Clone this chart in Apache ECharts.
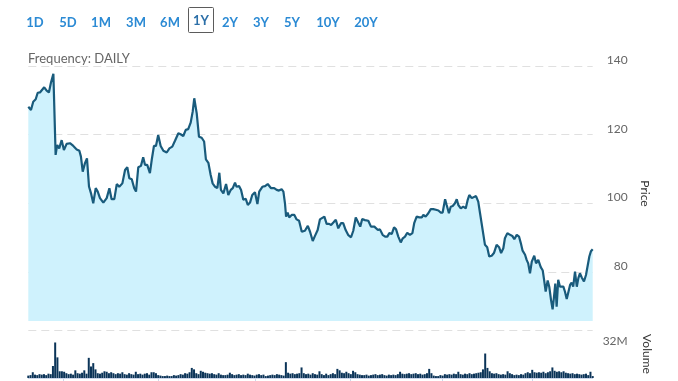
<!DOCTYPE html>
<html>
<head>
<meta charset="utf-8">
<script src="https://cdn.jsdelivr.net/npm/echarts@6/dist/echarts.min.js"></script>
<style>
  html, body { margin: 0; padding: 0; background: #fff; }
  #chart { width: 678px; height: 381px; }
</style>
</head>
<body>
<div id="chart"></div>
<script>
// ---- Data ----
const rangeButtons = ['1D', '5D', '1M', '3M', '6M', '1Y', '2Y', '3Y', '5Y', '10Y', '20Y'];
const activeButton = '1Y';
const frequencyText = 'Frequency: DAILY';

// trading-day position of each price reading (0 = first day, 252 = last day)
const priceDay = [
  0,1.2,2.2,3.3,4.2,5.2,6.0,7.1,8.2,9.2,10.1,11.2,12.2,12.9,13.8,14.9,15.9,17.1,18.6,20.1,21.6,22.8,23.5,24.3,25.3,26.2,27.1,28.0,29.0,30.1,31.0,32.0,33.5,35.0,36.2,37.2,38.4,39.5,40.6,42.0,43.2,44.2,45.1,46.2,47.3,48.1,49.1,50.3,
  51.3,52.1,53.1,54.3,55.1,56.1,57.0,58.0,59.1,60.3,61.8,63.0,64.3,65.5,67.0,68.0,69.2,70.3,71.4,72.5,73.4,74.1,75.2,76.2,77.4,78.5,79.3,80.4,81.4,82.3,83.4,84.4,85.3,86.0,87.1,88.3,89.3,90.4,91.3,92.3,93.0,94.1,95.0,96.0,97.1,98.0,99.0,100.0,101.2,102.3,103.1,
  104.5,105.7,106.9,107.5,108.4,109.8,110.9,111.9,113.1,113.9,114.6,115.1,115.8,116.5,117.6,118.8,119.8,120.9,122.1,123.5,124.8,125.8,127.0,128.0,129.2,130.2,131.0,132.2,133.2,134.3,135.2,136.2,137.3,138.4,139.6,140.6,141.7,142.9,144.1,145.1,146.2,147.3,148.2,149.1,150.3,151.8,153.0,154.5,
  155.2,156.1,157.0,158.2,159.3,160.3,161.2,162.3,163.3,164.2,165.2,166.3,167.2,168.2,169.2,170.4,171.5,172.3,173.4,174.6,175.7,176.4,177.4,178.6,179.7,180.8,182.0,183.1,184.1,185.0,186.1,186.8,187.8,188.6,189.5,190.5,191.3,192.0,193.1,194.2,195.3,196.2,196.9,198.0,198.7,199.9,200.9,201.7,202.4,203.9,204.9,205.8,
  206.9,207.9,209.1,210.2,211.1,212.1,212.8,213.9,215.1,216.1,217.0,218.1,219.1,219.9,220.7,221.8,222.5,223.2,224.0,224.8,225.9,226.7,227.7,228.8,229.7,230.3,231.0,231.9,232.6,233.4,234.1,234.7,235.3,235.9,236.6,237.4,238.2,238.9,239.6,240.4,241.1,241.9,242.6,243.3,244.1,244.9,245.6,246.3,247.1,248.1,249.0,249.8,250.5,251.2,252.0
];
const price = [
  128.1,127.2,129.6,130.3,132.2,132.3,132.8,133.8,132.8,132.3,135.1,137.7,114.1,117,116,118.4,115.5,117.3,117.5,116.7,115.7,115.3,113.6,109.2,111.7,113.1,104.9,102.9,100,104.4,103.4,101.5,100.2,101.5,104.4,101.2,101.2,105.6,104.8,105.8,109.7,110.5,107.3,107,104.4,103.4,110.5,110.9,
  113.4,111.2,111.2,108.8,112.6,116.7,116.7,119.9,116.7,115.3,114.8,116,116.5,118.2,120.4,120.1,119.6,121.4,121.6,123.5,126.7,130.6,126.2,119.4,119.1,118,112.8,111.8,108.3,105.8,104.8,104.4,108.9,103.9,102.9,105.6,102.4,103.9,104.4,106,104.8,105,103.9,101,101.3,99.5,100.2,102.4,103.2,99.8,103.4,
  104.8,105,105.6,106,104.4,104.4,103.9,103.7,104.1,103.4,100,96.1,97.3,95.9,96.6,96.6,95.3,94.9,91.7,92,93.4,91.7,89,90.5,92.2,95.3,95.3,96.1,94,94,93.7,94.4,95.2,92.7,94.2,94.2,92.2,90.7,90.1,92,95.9,94.4,93.2,95.4,95.1,94.9,93.2,93.2,
  93.4,92.2,92.4,90.8,90.3,90.3,91.3,91.1,93,92.4,90.3,88.6,89.8,90.3,91.4,90.8,91.3,94.2,96.1,95.9,95.9,96.6,96.1,97.1,98.3,98.3,98.1,97.9,97.3,97.3,101.2,99.5,97.1,99,99.2,100,101.2,99.5,98.5,99,98.5,101,102.4,101.5,101.2,102.1,100.5,97.1,96.6,87.9,87.2,84.5,
  84.7,85.5,87.9,87.2,85.5,86.9,89.8,91.3,90.8,90.5,89.5,90.8,90.3,88.4,86.2,85,83.5,82.5,79.6,83,84.7,82.5,83.5,81.4,80.4,77.7,74.3,77.5,75.7,71.8,69.1,72.6,76.6,69.9,77.7,75.7,75.2,75.7,74.3,72.1,72.3,76.2,76.9,75.7,80.1,75.7,78.2,79.6,78.4,77.2,79.1,79.6,84.5,86,86.6
];
// daily volume in millions, one value per trading day 0..252
const volumeM = [
  2.5,3,6,3.5,3,4,3.5,4,3,4.5,4,
  12.5,37,21.5,7,7,6.5,5,4,4.5,3.5,
  8,5,4.5,5.5,8,4.5,21,12,15.5,9,
  5,4.5,5.5,7,6.5,5,6,5,4,5,
  4.5,6,4,3.5,5,4,3.5,6.5,4,4.5,
  3.5,4.5,5,3.5,6,6,5,3,2.5,2,
  2,2.5,2,2,3,2.5,3,4,3.5,5,
  4.5,6,10.5,9,5,4,7.5,6.5,5.5,5,
  4.5,5,4,3.5,5,3.5,3,3,3.5,5.5,
  4,3,3.5,4,3,3.5,3,4.5,3.5,3,
  2.5,3.5,4,3,3.5,2,2.5,3,3.5,3,
  4,3.5,3,2.5,16.5,5.5,4.5,5,4,4.5,
  5,11,5,4,4.5,3.5,5,4,3.5,7,
  4,3,4.5,3,4,5,4,9.5,8,5.5,
  5,6.5,5,4,7.5,6,4,3.5,3,3,
  3.5,2.5,3,3.5,4,3,3.5,4,3,2.5,
  3.5,3,3.5,3,4,6.5,4.5,4,4.5,5,
  4,4.5,5,4,4.5,3.5,4,5,9.5,5,
  2.5,2,2,3,2.5,4,3.5,4,3.5,4.5,
  4,6.5,4,3.5,4.5,4,5,4,4.5,5,
  5.5,6,9,25.5,10.5,7,5,4.5,5,4,
  3.5,4,3.5,7,5,4,3,3.5,3,4,
  3.5,5,6,5,8.5,6,5.5,6,5.5,6.5,
  5,6,7,11,7.5,6.5,7,6,7,5.5,
  5,4.5,5,4,4.5,4,3.5,4,4.5,3,
  6.5,2
];
const lastDay = 252;
const monthTickDays = [15.4, 57.8, 101.2, 143.6, 185.0, 225.2];
const priceTicks = [80, 100, 120, 140];
const priceMin = 65.7, priceMax = 140;
const volumeLabelTicks = [32];
const volumeMax = 50;

// ---- Build chart ----
const FONT = 'Lato, "Open Sans", sans-serif';
const pricePairs = priceDay.map((d, i) => [d, price[i]]);
const volumePairs = volumeM.map((v, i) => [i, v]);

const buttonX = [35, 68, 101, 136, 170, 201, 230, 261, 292, 328, 366];
const graphics = [];
rangeButtons.forEach((b, i) => {
  const active = b === activeButton;
  if (active) {
    graphics.push({ type: 'rect', shape: { x: 188.5, y: 7.5, width: 25, height: 25, r: 1 },
      style: { fill: '#fff', stroke: '#5b5b5b', lineWidth: 1 } });
  }
  graphics.push({ type: 'text', x: buttonX[i], y: active ? 20.5 : 23,
    style: { text: b, fill: active ? '#2c6fa8' : '#2b8ad4', font: 'bold 13px ' + FONT,
      align: 'center', verticalAlign: 'middle' } });
});
graphics.push({ type: 'text', x: 28, y: 58.5,
  style: { text: frequencyText, fill: '#666', font: '13px ' + FONT, align: 'left', verticalAlign: 'middle' } });

const dashed = { type: [8, 5], color: '#e0e0e0', width: 1 };

const option = {
  animation: false,
  backgroundColor: '#fff',
  textStyle: { fontFamily: FONT },
  graphic: graphics,
  grid: [
    { left: 28.3, top: 66, width: 564.4, height: 255 },
    { left: 28.3, top: 330, width: 564.4, height: 48 }
  ],
  xAxis: [
    { type: 'value', gridIndex: 0, min: 0, max: lastDay, show: false },
    { type: 'value', gridIndex: 1, min: 0, max: lastDay, position: 'bottom',
      axisLine: { show: true, lineStyle: { color: '#ccd6eb' } },
      axisTick: { show: true, length: 6, customValues: monthTickDays, lineStyle: { color: '#ccd6eb' } },
      axisLabel: { show: false }, splitLine: { show: false } }
  ],
  yAxis: [
    { type: 'value', gridIndex: 0, position: 'right', min: priceMin, max: priceMax,
      axisLine: { show: false },
      axisTick: { show: false, customValues: priceTicks },
      axisLabel: { customValues: priceTicks, color: '#666', fontSize: 12, fontFamily: FONT,
        align: 'right', margin: 35, verticalAlign: 'bottom' },
      splitLine: { show: true, lineStyle: dashed },
      name: 'Price', nameLocation: 'middle', nameRotate: -90, nameGap: 46,
      nameTextStyle: { color: '#333', fontSize: 12, fontFamily: FONT } },
    { type: 'value', gridIndex: 1, position: 'right', min: 0, max: volumeMax,
      axisLine: { show: false },
      axisTick: { show: false, customValues: [volumeMax] },
      axisLabel: { customValues: volumeLabelTicks, formatter: v => v + 'M', color: '#666', fontSize: 12,
        fontFamily: FONT, align: 'right', margin: 35, verticalAlign: 'bottom' },
      splitLine: { show: true, lineStyle: dashed },
      name: 'Volume', nameLocation: 'middle', nameRotate: -90, nameGap: 48,
      nameTextStyle: { color: '#333', fontSize: 12, fontFamily: FONT } }
  ],
  series: [
    { type: 'line', xAxisIndex: 0, yAxisIndex: 0, data: pricePairs, showSymbol: false, symbol: 'none',
      lineStyle: { color: '#195b7c', width: 2.2 }, itemStyle: { color: '#195b7c' },
      areaStyle: { color: '#cff2fd', opacity: 1 }, z: 3 },
    { type: 'bar', xAxisIndex: 1, yAxisIndex: 1, data: volumePairs, barWidth: 2,
      itemStyle: { color: '#0b3458' } }
  ]
};

const chart = echarts.init(document.getElementById('chart'), null, { renderer: 'canvas' });
chart.setOption(option);
</script>
</body>
</html>
